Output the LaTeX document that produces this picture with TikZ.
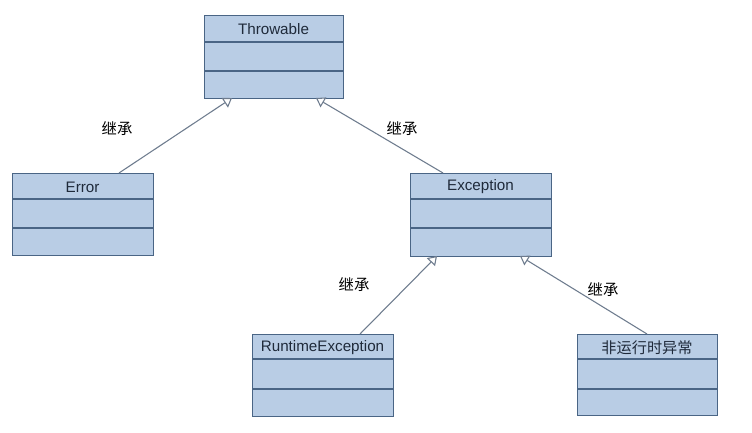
\documentclass[tikz,border=0pt]{standalone}
\usepackage{fontspec}
\setmainfont{Liberation Sans}
\newfontfamily\cjk{Noto Sans CJK SC}
\usetikzlibrary{arrows.meta,calc}
\definecolor{boxfill}{HTML}{B9CDE5}
\definecolor{boxdraw}{HTML}{4A6585}
\definecolor{linecol}{HTML}{6E7C8E}
\definecolor{txt}{HTML}{1F2A3A}
\tikzset{
  umlbox/.style={draw=boxdraw, fill=boxfill, line width=0.9pt, inner sep=0pt},
  divider/.style={draw=boxdraw, line width=0.9pt},
  title/.style={font=\fontsize{11.4}{13}\selectfont, text=txt, inner sep=0pt},
  inherit/.style={draw=linecol, line width=0.8pt, -{Triangle[open, width=8.5pt, length=6.5pt, fill=white]}},
  lbl/.style={font=\cjk\fontsize{11.5}{13}\selectfont, text=black, inner sep=0pt}
}
% #1 name, #2 x1, #3 y1, #4 x2, #5 y2, #6 d1, #7 d2, #8 text
\newcommand{\umlclass}[8]{%
  \node[umlbox, minimum width={(#4-#2)*0.75pt}, minimum height={(#5-#3)*0.75pt}, anchor=north west] (#1) at (#2,#3) {};
  \draw[divider] (#2,#6) -- (#4,#6);
  \draw[divider] (#2,#7) -- (#4,#7);
  \node[title] (#1t) at ({(#2+#4)/2},{(#3+#6)/2+1}) {#8};
}
\begin{document}
\begin{tikzpicture}[x=0.75pt, y=-0.75pt]
\useasboundingbox (0,0) rectangle (752,432);
\fill[white] (0,0) rectangle (752,432);
\umlclass{thr}{204}{15}{343}{98}{42}{71}{Throwable}
\umlclass{err}{12}{173}{153}{255}{199}{228}{Error}
\umlclass{exc}{410}{173}{551}{256}{199}{228}{Exception}
\umlclass{rte}{252}{334}{393}{416}{359}{389}{RuntimeException}
\umlclass{nre}{577}{334}{717}{415}{359}{389}{{\cjk 非运行时异常}}
% attachment points
\coordinate (thrA) at (232,98);
\coordinate (thrB) at (316,98);
\coordinate (errT) at (119,173);
\coordinate (excT) at (443,173);
\coordinate (excA) at (437,256);
\coordinate (excB) at (520,256);
\coordinate (rteT) at (360,334);
\coordinate (nreT) at (647,334);
\draw[inherit] (errT) -- (thrA);
\draw[inherit] (excT) -- (thrB);
\draw[inherit] (rteT) -- (excA);
\draw[inherit] (nreT) -- (excB);
\node[lbl] (l1) at (117,129) {继承};
\node[lbl] (l2) at (402,129) {继承};
\node[lbl] (l3) at (354,285) {继承};
\node[lbl] (l4) at (603,290) {继承};
\end{tikzpicture}
\end{document}
